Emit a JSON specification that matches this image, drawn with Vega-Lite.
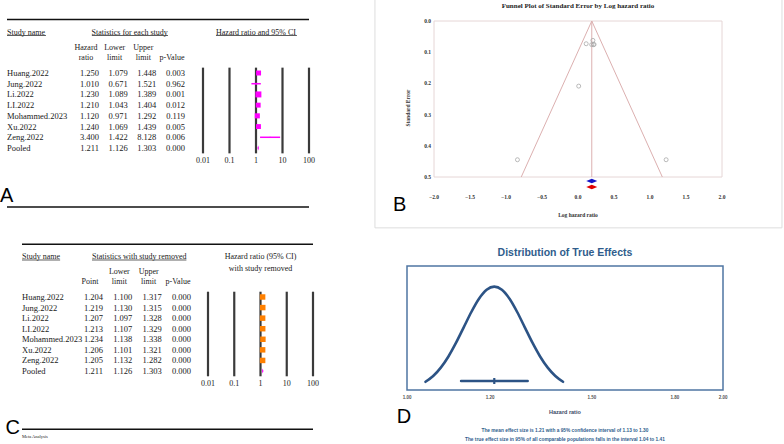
{
"$schema":"https://vega.github.io/schema/vega-lite/v6.json",
"width":784,"height":444,"autosize":{"type":"none"},"padding":0,"background":"white",
"config":{"view":{"stroke":null},"axis":{"disable":true},"legend":{"disable":true}},
"data":{"values":[{}]},
"datasets":{
"studiesA":[
{"study":"Huang.2022","hr":1.25,"lower":1.079,"upper":1.448,"p":0.003,"weight":17.8},
{"study":"Jung.2022","hr":1.01,"lower":0.671,"upper":1.521,"p":0.962,"weight":2.3},
{"study":"Li.2022","hr":1.23,"lower":1.089,"upper":1.389,"p":0.001,"weight":26.0},
{"study":"LI.2022","hr":1.21,"lower":1.043,"upper":1.404,"p":0.012,"weight":17.4},
{"study":"Mohammed.2023","hr":1.12,"lower":0.971,"upper":1.292,"p":0.119,"weight":18.8},
{"study":"Xu.2022","hr":1.24,"lower":1.069,"upper":1.439,"p":0.005,"weight":17.4},
{"study":"Zeng.2022","hr":3.4,"lower":1.422,"upper":8.128,"p":0.006,"weight":0.5},
{"study":"Pooled","hr":1.211,"lower":1.126,"upper":1.303,"p":0.0}
],
"studiesC":[
{"study":"Huang.2022","point":1.204,"lower":1.1,"upper":1.317,"p":0},
{"study":"Jung.2022","point":1.219,"lower":1.13,"upper":1.315,"p":0},
{"study":"Li.2022","point":1.207,"lower":1.097,"upper":1.328,"p":0},
{"study":"LI.2022","point":1.213,"lower":1.107,"upper":1.329,"p":0},
{"study":"Mohammed.2023","point":1.234,"lower":1.138,"upper":1.338,"p":0},
{"study":"Xu.2022","point":1.206,"lower":1.101,"upper":1.321,"p":0},
{"study":"Zeng.2022","point":1.205,"lower":1.132,"upper":1.282,"p":0},
{"study":"Pooled","point":1.211,"lower":1.126,"upper":1.303,"p":0}
],
"colsA":[{"col":"hr","l1":"Hazard","l2":"ratio"},{"col":"lower","l1":"Lower","l2":"limit"},{"col":"upper","l1":"Upper","l2":"limit"},{"col":"p","l2":"p-Value"}],
"colsC":[{"col":"point","l2":"Point"},{"col":"lower","l1":"Lower","l2":"limit"},{"col":"upper","l1":"Upper","l2":"limit"},{"col":"p","l2":"p-Value"}],
"forestTicks":[{"v":0.01},{"v":0.1},{"v":1},{"v":10},{"v":100}],
"funnel":[{"lhr":-0.7886,"se":0.5},{"lhr":0.1914,"se":0},{"lhr":1.1714,"se":0.5}],
"funnelPts":[
{"study":"Huang.2022","lhr":0.2231,"se":0.0751},
{"study":"Jung.2022","lhr":0.00995,"se":0.2087},
{"study":"Li.2022","lhr":0.207,"se":0.0621},
{"study":"LI.2022","lhr":0.1906,"se":0.0758},
{"study":"Mohammed.2023","lhr":0.1133,"se":0.0729},
{"study":"Xu.2022","lhr":0.2151,"se":0.0758},
{"study":"Zeng.2022","lhr":1.2238,"se":0.4447},
{"study":"Imputed","lhr":-0.841,"se":0.4447}
],
"summaryB":[{"method":"Observed","lhr":0.1914},{"method":"Adjusted","lhr":0.1914}],
"ticksBx":[{"v":-2},{"v":-1.5},{"v":-1},{"v":-0.5},{"v":0},{"v":0.5},{"v":1},{"v":1.5},{"v":2}],
"ticksBy":[{"v":0},{"v":0.1},{"v":0.2},{"v":0.3},{"v":0.4},{"v":0.5}],
"curveD":[
{"hr":1.04149,"density":0.0796},{"hr":1.05908,"density":0.1353},{"hr":1.07697,"density":0.2163},{"hr":1.09516,"density":0.3247},
{"hr":1.11366,"density":0.4578},{"hr":1.13247,"density":0.6065},{"hr":1.1516,"density":0.7548},{"hr":1.17105,"density":0.8825},
{"hr":1.19083,"density":0.9692},{"hr":1.21094,"density":1.0},{"hr":1.2314,"density":0.9692},{"hr":1.2522,"density":0.8825},
{"hr":1.27335,"density":0.7548},{"hr":1.29486,"density":0.6065},{"hr":1.31673,"density":0.4578},{"hr":1.33897,"density":0.3247},
{"hr":1.36159,"density":0.2163},{"hr":1.38459,"density":0.1353},{"hr":1.40798,"density":0.0796}
],
"summaryD":[{"mean":1.211,"lower":1.126,"upper":1.303}],
"ticksD":[{"v":1},{"v":1.2},{"v":1.5},{"v":1.8},{"v":2}]
},
"layer":[
{"layer":[
 {"layer":[
  {"mark":{"type":"rule","color":"#111111","strokeWidth":1.5},"encoding":{"x":{"datum":0,"type":"quantitative","scale":{"type":"linear","domain":[0,1],"range":[7,309],"nice":false,"zero":false}},"x2":{"datum":1},"y":{"datum":"top","type":"nominal","scale":{"type":"point","padding":0,"domain":["top","_a9","head","_a7","_a6","_a5","_a4","_a3","colhead","rtop","Huang.2022","_b1","Jung.2022","_b3","Li.2022","_b5","LI.2022","_b7","Mohammed.2023","_b9","Xu.2022","_b11","Zeng.2022","_b13","Pooled","rbot","tick","_c17","_c18","_c19","_c20","_c21","_c22","_c23","letter","bottom"],"range":[19.43,206.93]}}}},
  {"mark":{"type":"rule","color":"#111111","strokeWidth":1.5},"encoding":{"x":{"datum":0,"type":"quantitative","scale":{"type":"linear","domain":[0,1],"range":[7,309],"nice":false,"zero":false}},"x2":{"datum":1},"y":{"datum":"bottom","type":"nominal","scale":{"type":"point","padding":0,"domain":["top","_a9","head","_a7","_a6","_a5","_a4","_a3","colhead","rtop","Huang.2022","_b1","Jung.2022","_b3","Li.2022","_b5","LI.2022","_b7","Mohammed.2023","_b9","Xu.2022","_b11","Zeng.2022","_b13","Pooled","rbot","tick","_c17","_c18","_c19","_c20","_c21","_c22","_c23","letter","bottom"],"range":[19.43,206.93]}}}},
  {"mark":{"type":"rule","color":"#333333","strokeWidth":0.8},"encoding":{"x":{"datum":0,"type":"quantitative","scale":{"type":"linear","domain":[0,1],"range":[7,309],"nice":false,"zero":false}},"x2":{"datum":0.129},"y":{"datum":"_a7","type":"nominal","scale":{"type":"point","padding":0,"domain":["top","_a9","head","_a7","_a6","_a5","_a4","_a3","colhead","rtop","Huang.2022","_b1","Jung.2022","_b3","Li.2022","_b5","LI.2022","_b7","Mohammed.2023","_b9","Xu.2022","_b11","Zeng.2022","_b13","Pooled","rbot","tick","_c17","_c18","_c19","_c20","_c21","_c22","_c23","letter","bottom"],"range":[19.43,206.93]}}}},
  {"mark":{"type":"rule","color":"#333333","strokeWidth":0.8},"encoding":{"x":{"datum":0.281,"type":"quantitative","scale":{"type":"linear","domain":[0,1],"range":[7,309],"nice":false,"zero":false}},"x2":{"datum":0.533},"y":{"datum":"_a7","type":"nominal","scale":{"type":"point","padding":0,"domain":["top","_a9","head","_a7","_a6","_a5","_a4","_a3","colhead","rtop","Huang.2022","_b1","Jung.2022","_b3","Li.2022","_b5","LI.2022","_b7","Mohammed.2023","_b9","Xu.2022","_b11","Zeng.2022","_b13","Pooled","rbot","tick","_c17","_c18","_c19","_c20","_c21","_c22","_c23","letter","bottom"],"range":[19.43,206.93]}}}},
  {"mark":{"type":"rule","color":"#333333","strokeWidth":0.8},"encoding":{"x":{"datum":0.692,"type":"quantitative","scale":{"type":"linear","domain":[0,1],"range":[7,309],"nice":false,"zero":false}},"x2":{"datum":0.96},"y":{"datum":"_a7","type":"nominal","scale":{"type":"point","padding":0,"domain":["top","_a9","head","_a7","_a6","_a5","_a4","_a3","colhead","rtop","Huang.2022","_b1","Jung.2022","_b3","Li.2022","_b5","LI.2022","_b7","Mohammed.2023","_b9","Xu.2022","_b11","Zeng.2022","_b13","Pooled","rbot","tick","_c17","_c18","_c19","_c20","_c21","_c22","_c23","letter","bottom"],"range":[19.43,206.93]}}}},
  {"data":{"name":"studiesA"},"mark":{"type":"text","align":"left","baseline":"middle","font":"Liberation Serif","fontSize":8.5,"color":"#1a1a1a"},"encoding":{"x":{"datum":0,"type":"quantitative","scale":{"type":"linear","domain":[0,1],"range":[7,309],"nice":false,"zero":false}},"y":{"field":"study","type":"nominal","scale":{"type":"point","padding":0,"domain":["top","_a9","head","_a7","_a6","_a5","_a4","_a3","colhead","rtop","Huang.2022","_b1","Jung.2022","_b3","Li.2022","_b5","LI.2022","_b7","Mohammed.2023","_b9","Xu.2022","_b11","Zeng.2022","_b13","Pooled","rbot","tick","_c17","_c18","_c19","_c20","_c21","_c22","_c23","letter","bottom"],"range":[19.43,206.93]}},"text":{"field":"study"}}},
  {"mark":{"type":"text","align":"left","baseline":"alphabetic","dy":-1,"font":"Liberation Serif","fontSize":8,"color":"#1a1a1a"},"encoding":{"x":{"datum":0,"type":"quantitative","scale":{"type":"linear","domain":[0,1],"range":[7,309],"nice":false,"zero":false}},"y":{"datum":"_a7","type":"nominal","scale":{"type":"point","padding":0,"domain":["top","_a9","head","_a7","_a6","_a5","_a4","_a3","colhead","rtop","Huang.2022","_b1","Jung.2022","_b3","Li.2022","_b5","LI.2022","_b7","Mohammed.2023","_b9","Xu.2022","_b11","Zeng.2022","_b13","Pooled","rbot","tick","_c17","_c18","_c19","_c20","_c21","_c22","_c23","letter","bottom"],"range":[19.43,206.93]}},"text":{"value":"Study name"}}},
  {"mark":{"type":"text","align":"left","baseline":"alphabetic","font":"Liberation Sans","fontSize":20,"dx":-7,"color":"#000000"},"encoding":{"x":{"datum":0,"type":"quantitative","scale":{"type":"linear","domain":[0,1],"range":[7,309],"nice":false,"zero":false}},"y":{"datum":"letter","type":"nominal","scale":{"type":"point","padding":0,"domain":["top","_a9","head","_a7","_a6","_a5","_a4","_a3","colhead","rtop","Huang.2022","_b1","Jung.2022","_b3","Li.2022","_b5","LI.2022","_b7","Mohammed.2023","_b9","Xu.2022","_b11","Zeng.2022","_b13","Pooled","rbot","tick","_c17","_c18","_c19","_c20","_c21","_c22","_c23","letter","bottom"],"range":[19.43,206.93]}},"text":{"value":"A"}}}
 ]},
 {"layer":[
  {"data":{"name":"studiesA"},"transform":[{"fold":["hr","lower","upper","p"],"as":["col","val"]}],"mark":{"type":"text","align":"right","baseline":"middle","font":"Liberation Serif","fontSize":8.5,"color":"#1a1a1a"},"encoding":{"x":{"field":"col","type":"nominal","scale":{"type":"point","padding":0,"domain":["hr","lower","upper","p"],"range":[99,185]}},"y":{"field":"study","type":"nominal","scale":{"type":"point","padding":0,"domain":["top","_a9","head","_a7","_a6","_a5","_a4","_a3","colhead","rtop","Huang.2022","_b1","Jung.2022","_b3","Li.2022","_b5","LI.2022","_b7","Mohammed.2023","_b9","Xu.2022","_b11","Zeng.2022","_b13","Pooled","rbot","tick","_c17","_c18","_c19","_c20","_c21","_c22","_c23","letter","bottom"],"range":[19.43,206.93]}},"text":{"field":"val","type":"quantitative","format":".3f"}}},
  {"data":{"name":"colsA"},"transform":[{"filter":"isValid(datum.l1)"}],"mark":{"type":"text","align":"center","baseline":"bottom","dx":-13,"font":"Liberation Serif","fontSize":8,"color":"#1a1a1a"},"encoding":{"x":{"field":"col","type":"nominal","scale":{"type":"point","padding":0,"domain":["hr","lower","upper","p"],"range":[99,185]}},"y":{"datum":"_a4","type":"nominal","scale":{"type":"point","padding":0,"domain":["top","_a9","head","_a7","_a6","_a5","_a4","_a3","colhead","rtop","Huang.2022","_b1","Jung.2022","_b3","Li.2022","_b5","LI.2022","_b7","Mohammed.2023","_b9","Xu.2022","_b11","Zeng.2022","_b13","Pooled","rbot","tick","_c17","_c18","_c19","_c20","_c21","_c22","_c23","letter","bottom"],"range":[19.43,206.93]}},"text":{"field":"l1"}}},
  {"data":{"name":"colsA"},"mark":{"type":"text","align":"center","baseline":"bottom","dx":-13,"font":"Liberation Serif","fontSize":8,"color":"#1a1a1a"},"encoding":{"x":{"field":"col","type":"nominal","scale":{"type":"point","padding":0,"domain":["hr","lower","upper","p"],"range":[99,185]}},"y":{"datum":"colhead","type":"nominal","scale":{"type":"point","padding":0,"domain":["top","_a9","head","_a7","_a6","_a5","_a4","_a3","colhead","rtop","Huang.2022","_b1","Jung.2022","_b3","Li.2022","_b5","LI.2022","_b7","Mohammed.2023","_b9","Xu.2022","_b11","Zeng.2022","_b13","Pooled","rbot","tick","_c17","_c18","_c19","_c20","_c21","_c22","_c23","letter","bottom"],"range":[19.43,206.93]}},"text":{"field":"l2"}}},
  {"mark":{"type":"text","align":"center","baseline":"alphabetic","dy":-1,"dx":2,"font":"Liberation Serif","fontSize":8,"color":"#1a1a1a"},"encoding":{"x":{"datum":"lower","type":"nominal","scale":{"type":"point","padding":0,"domain":["hr","lower","upper","p"],"range":[99,185]}},"y":{"datum":"_a7","type":"nominal","scale":{"type":"point","padding":0,"domain":["top","_a9","head","_a7","_a6","_a5","_a4","_a3","colhead","rtop","Huang.2022","_b1","Jung.2022","_b3","Li.2022","_b5","LI.2022","_b7","Mohammed.2023","_b9","Xu.2022","_b11","Zeng.2022","_b13","Pooled","rbot","tick","_c17","_c18","_c19","_c20","_c21","_c22","_c23","letter","bottom"],"range":[19.43,206.93]}},"text":{"value":"Statistics for each study"}}}
 ]},
 {"layer":[
  {"data":{"name":"forestTicks"},"mark":{"type":"rule","color":"#3a3a3a","strokeWidth":2.2},"encoding":{"x":{"field":"v","type":"quantitative","scale":{"type":"log","domain":[0.01,100],"range":[203,309],"nice":false}},"y":{"datum":"rtop","type":"nominal","scale":{"type":"point","padding":0,"domain":["top","_a9","head","_a7","_a6","_a5","_a4","_a3","colhead","rtop","Huang.2022","_b1","Jung.2022","_b3","Li.2022","_b5","LI.2022","_b7","Mohammed.2023","_b9","Xu.2022","_b11","Zeng.2022","_b13","Pooled","rbot","tick","_c17","_c18","_c19","_c20","_c21","_c22","_c23","letter","bottom"],"range":[19.43,206.93]}},"y2":{"datum":"rbot"}}},
  {"data":{"name":"forestTicks"},"mark":{"type":"text","align":"center","baseline":"middle","dy":2,"font":"Liberation Serif","fontSize":8,"color":"#1a1a1a"},"encoding":{"x":{"field":"v","type":"quantitative","scale":{"type":"log","domain":[0.01,100],"range":[203,309],"nice":false}},"y":{"datum":"tick","type":"nominal","scale":{"type":"point","padding":0,"domain":["top","_a9","head","_a7","_a6","_a5","_a4","_a3","colhead","rtop","Huang.2022","_b1","Jung.2022","_b3","Li.2022","_b5","LI.2022","_b7","Mohammed.2023","_b9","Xu.2022","_b11","Zeng.2022","_b13","Pooled","rbot","tick","_c17","_c18","_c19","_c20","_c21","_c22","_c23","letter","bottom"],"range":[19.43,206.93]}},"text":{"field":"v","type":"quantitative","format":"~g"}}},
  {"data":{"name":"studiesA"},"transform":[{"filter":"datum.study !== 'Pooled'"}],"mark":{"type":"rule","color":"#FF00FF","strokeWidth":1.5},"encoding":{"x":{"field":"lower","type":"quantitative","scale":{"type":"log","domain":[0.01,100],"range":[203,309],"nice":false}},"x2":{"field":"upper"},"y":{"field":"study","type":"nominal","scale":{"type":"point","padding":0,"domain":["top","_a9","head","_a7","_a6","_a5","_a4","_a3","colhead","rtop","Huang.2022","_b1","Jung.2022","_b3","Li.2022","_b5","LI.2022","_b7","Mohammed.2023","_b9","Xu.2022","_b11","Zeng.2022","_b13","Pooled","rbot","tick","_c17","_c18","_c19","_c20","_c21","_c22","_c23","letter","bottom"],"range":[19.43,206.93]}}}},
  {"data":{"name":"studiesA"},"transform":[{"filter":"datum.study !== 'Pooled'"}],"mark":{"type":"point","shape":"square","filled":true,"color":"#FF00FF","opacity":1},"encoding":{"x":{"field":"hr","type":"quantitative","scale":{"type":"log","domain":[0.01,100],"range":[203,309],"nice":false}},"y":{"field":"study","type":"nominal","scale":{"type":"point","padding":0,"domain":["top","_a9","head","_a7","_a6","_a5","_a4","_a3","colhead","rtop","Huang.2022","_b1","Jung.2022","_b3","Li.2022","_b5","LI.2022","_b7","Mohammed.2023","_b9","Xu.2022","_b11","Zeng.2022","_b13","Pooled","rbot","tick","_c17","_c18","_c19","_c20","_c21","_c22","_c23","letter","bottom"],"range":[19.43,206.93]}},"size":{"field":"weight","type":"quantitative","scale":{"type":"linear","domain":[0,26],"range":[0,36],"zero":true}}}},
  {"data":{"name":"studiesA"},"transform":[{"filter":"datum.study === 'Pooled'"}],"mark":{"type":"point","shape":"M0,-1L0.3,0L0,1L-0.3,0Z","filled":true,"color":"#FF00FF","size":25,"opacity":1},"encoding":{"x":{"field":"hr","type":"quantitative","scale":{"type":"log","domain":[0.01,100],"range":[203,309],"nice":false}},"y":{"field":"study","type":"nominal","scale":{"type":"point","padding":0,"domain":["top","_a9","head","_a7","_a6","_a5","_a4","_a3","colhead","rtop","Huang.2022","_b1","Jung.2022","_b3","Li.2022","_b5","LI.2022","_b7","Mohammed.2023","_b9","Xu.2022","_b11","Zeng.2022","_b13","Pooled","rbot","tick","_c17","_c18","_c19","_c20","_c21","_c22","_c23","letter","bottom"],"range":[19.43,206.93]}}}},
  {"mark":{"type":"text","align":"center","baseline":"alphabetic","dy":-1,"font":"Liberation Serif","fontSize":8,"color":"#1a1a1a"},"encoding":{"x":{"datum":1,"type":"quantitative","scale":{"type":"log","domain":[0.01,100],"range":[203,309],"nice":false}},"y":{"datum":"_a7","type":"nominal","scale":{"type":"point","padding":0,"domain":["top","_a9","head","_a7","_a6","_a5","_a4","_a3","colhead","rtop","Huang.2022","_b1","Jung.2022","_b3","Li.2022","_b5","LI.2022","_b7","Mohammed.2023","_b9","Xu.2022","_b11","Zeng.2022","_b13","Pooled","rbot","tick","_c17","_c18","_c19","_c20","_c21","_c22","_c23","letter","bottom"],"range":[19.43,206.93]}},"text":{"value":"Hazard ratio and 95% CI"}}}
 ]}
],"resolve":{"scale":{"x":"independent"}}},
{"layer":[
 {"layer":[
  {"mark":{"type":"rule","color":"#111111","strokeWidth":1.5},"encoding":{"x":{"datum":0,"type":"quantitative","scale":{"type":"linear","domain":[0,1],"range":[22,313],"nice":false,"zero":false}},"x2":{"datum":1},"y":{"datum":"top","type":"nominal","scale":{"type":"point","padding":0,"domain":["top","_a9","head","_a7","_a6","_a5","_a4","_a3","colhead","rtop","Huang.2022","_b1","Jung.2022","_b3","Li.2022","_b5","LI.2022","_b7","Mohammed.2023","_b9","Xu.2022","_b11","Zeng.2022","_b13","Pooled","rbot","tick","_c17","_c18","_c19","_c20","_c21","_c22","_c23","_c24","bottom","letter"],"range":[244.14,434.43]}}}},
  {"mark":{"type":"rule","color":"#111111","strokeWidth":1.5},"encoding":{"x":{"datum":0,"type":"quantitative","scale":{"type":"linear","domain":[0,1],"range":[22,313],"nice":false,"zero":false}},"x2":{"datum":1},"y":{"datum":"bottom","type":"nominal","scale":{"type":"point","padding":0,"domain":["top","_a9","head","_a7","_a6","_a5","_a4","_a3","colhead","rtop","Huang.2022","_b1","Jung.2022","_b3","Li.2022","_b5","LI.2022","_b7","Mohammed.2023","_b9","Xu.2022","_b11","Zeng.2022","_b13","Pooled","rbot","tick","_c17","_c18","_c19","_c20","_c21","_c22","_c23","_c24","bottom","letter"],"range":[244.14,434.43]}}}},
  {"mark":{"type":"rule","color":"#333333","strokeWidth":0.8},"encoding":{"x":{"datum":0,"type":"quantitative","scale":{"type":"linear","domain":[0,1],"range":[22,313],"nice":false,"zero":false}},"x2":{"datum":0.131},"y":{"datum":"_a7","type":"nominal","scale":{"type":"point","padding":0,"domain":["top","_a9","head","_a7","_a6","_a5","_a4","_a3","colhead","rtop","Huang.2022","_b1","Jung.2022","_b3","Li.2022","_b5","LI.2022","_b7","Mohammed.2023","_b9","Xu.2022","_b11","Zeng.2022","_b13","Pooled","rbot","tick","_c17","_c18","_c19","_c20","_c21","_c22","_c23","_c24","bottom","letter"],"range":[244.14,434.43]}}}},
  {"mark":{"type":"rule","color":"#333333","strokeWidth":0.8},"encoding":{"x":{"datum":0.2405,"type":"quantitative","scale":{"type":"linear","domain":[0,1],"range":[22,313],"nice":false,"zero":false}},"x2":{"datum":0.565},"y":{"datum":"_a7","type":"nominal","scale":{"type":"point","padding":0,"domain":["top","_a9","head","_a7","_a6","_a5","_a4","_a3","colhead","rtop","Huang.2022","_b1","Jung.2022","_b3","Li.2022","_b5","LI.2022","_b7","Mohammed.2023","_b9","Xu.2022","_b11","Zeng.2022","_b13","Pooled","rbot","tick","_c17","_c18","_c19","_c20","_c21","_c22","_c23","_c24","bottom","letter"],"range":[244.14,434.43]}}}},
  {"data":{"name":"studiesC"},"mark":{"type":"text","align":"left","baseline":"middle","font":"Liberation Serif","fontSize":8.5,"color":"#1a1a1a"},"encoding":{"x":{"datum":0,"type":"quantitative","scale":{"type":"linear","domain":[0,1],"range":[22,313],"nice":false,"zero":false}},"y":{"field":"study","type":"nominal","scale":{"type":"point","padding":0,"domain":["top","_a9","head","_a7","_a6","_a5","_a4","_a3","colhead","rtop","Huang.2022","_b1","Jung.2022","_b3","Li.2022","_b5","LI.2022","_b7","Mohammed.2023","_b9","Xu.2022","_b11","Zeng.2022","_b13","Pooled","rbot","tick","_c17","_c18","_c19","_c20","_c21","_c22","_c23","_c24","bottom","letter"],"range":[244.14,434.43]}},"text":{"field":"study"}}},
  {"mark":{"type":"text","align":"left","baseline":"alphabetic","dy":-1,"font":"Liberation Serif","fontSize":8,"color":"#1a1a1a"},"encoding":{"x":{"datum":0,"type":"quantitative","scale":{"type":"linear","domain":[0,1],"range":[22,313],"nice":false,"zero":false}},"y":{"datum":"_a7","type":"nominal","scale":{"type":"point","padding":0,"domain":["top","_a9","head","_a7","_a6","_a5","_a4","_a3","colhead","rtop","Huang.2022","_b1","Jung.2022","_b3","Li.2022","_b5","LI.2022","_b7","Mohammed.2023","_b9","Xu.2022","_b11","Zeng.2022","_b13","Pooled","rbot","tick","_c17","_c18","_c19","_c20","_c21","_c22","_c23","_c24","bottom","letter"],"range":[244.14,434.43]}},"text":{"value":"Study name"}}},
  {"mark":{"type":"text","align":"right","baseline":"alphabetic","font":"Liberation Sans","fontSize":20,"dx":-2,"color":"#000000"},"encoding":{"x":{"datum":0,"type":"quantitative","scale":{"type":"linear","domain":[0,1],"range":[22,313],"nice":false,"zero":false}},"y":{"datum":"letter","type":"nominal","scale":{"type":"point","padding":0,"domain":["top","_a9","head","_a7","_a6","_a5","_a4","_a3","colhead","rtop","Huang.2022","_b1","Jung.2022","_b3","Li.2022","_b5","LI.2022","_b7","Mohammed.2023","_b9","Xu.2022","_b11","Zeng.2022","_b13","Pooled","rbot","tick","_c17","_c18","_c19","_c20","_c21","_c22","_c23","_c24","bottom","letter"],"range":[244.14,434.43]}},"text":{"value":"C"}}},
  {"mark":{"type":"text","align":"left","baseline":"top","font":"Liberation Serif","fontSize":4.5,"color":"#1a1a1a"},"encoding":{"x":{"datum":0,"type":"quantitative","scale":{"type":"linear","domain":[0,1],"range":[22,313],"nice":false,"zero":false}},"y":{"datum":"letter","type":"nominal","scale":{"type":"point","padding":0,"domain":["top","_a9","head","_a7","_a6","_a5","_a4","_a3","colhead","rtop","Huang.2022","_b1","Jung.2022","_b3","Li.2022","_b5","LI.2022","_b7","Mohammed.2023","_b9","Xu.2022","_b11","Zeng.2022","_b13","Pooled","rbot","tick","_c17","_c18","_c19","_c20","_c21","_c22","_c23","_c24","bottom","letter"],"range":[244.14,434.43]}},"text":{"value":"Meta Analysis"}}}
 ]},
 {"layer":[
  {"data":{"name":"studiesC"},"transform":[{"fold":["point","lower","upper","p"],"as":["col","val"]}],"mark":{"type":"text","align":"right","baseline":"middle","font":"Liberation Serif","fontSize":8.5,"color":"#1a1a1a"},"encoding":{"x":{"field":"col","type":"nominal","scale":{"type":"point","padding":0,"domain":["point","lower","upper","p"],"range":[103,191]}},"y":{"field":"study","type":"nominal","scale":{"type":"point","padding":0,"domain":["top","_a9","head","_a7","_a6","_a5","_a4","_a3","colhead","rtop","Huang.2022","_b1","Jung.2022","_b3","Li.2022","_b5","LI.2022","_b7","Mohammed.2023","_b9","Xu.2022","_b11","Zeng.2022","_b13","Pooled","rbot","tick","_c17","_c18","_c19","_c20","_c21","_c22","_c23","_c24","bottom","letter"],"range":[244.14,434.43]}},"text":{"field":"val","type":"quantitative","format":".3f"}}},
  {"data":{"name":"colsC"},"transform":[{"filter":"isValid(datum.l1)"}],"mark":{"type":"text","align":"center","baseline":"bottom","dx":-13,"font":"Liberation Serif","fontSize":8,"color":"#1a1a1a"},"encoding":{"x":{"field":"col","type":"nominal","scale":{"type":"point","padding":0,"domain":["point","lower","upper","p"],"range":[103,191]}},"y":{"datum":"_a4","type":"nominal","scale":{"type":"point","padding":0,"domain":["top","_a9","head","_a7","_a6","_a5","_a4","_a3","colhead","rtop","Huang.2022","_b1","Jung.2022","_b3","Li.2022","_b5","LI.2022","_b7","Mohammed.2023","_b9","Xu.2022","_b11","Zeng.2022","_b13","Pooled","rbot","tick","_c17","_c18","_c19","_c20","_c21","_c22","_c23","_c24","bottom","letter"],"range":[244.14,434.43]}},"text":{"field":"l1"}}},
  {"data":{"name":"colsC"},"mark":{"type":"text","align":"center","baseline":"bottom","dx":-13,"font":"Liberation Serif","fontSize":8,"color":"#1a1a1a"},"encoding":{"x":{"field":"col","type":"nominal","scale":{"type":"point","padding":0,"domain":["point","lower","upper","p"],"range":[103,191]}},"y":{"datum":"colhead","type":"nominal","scale":{"type":"point","padding":0,"domain":["top","_a9","head","_a7","_a6","_a5","_a4","_a3","colhead","rtop","Huang.2022","_b1","Jung.2022","_b3","Li.2022","_b5","LI.2022","_b7","Mohammed.2023","_b9","Xu.2022","_b11","Zeng.2022","_b13","Pooled","rbot","tick","_c17","_c18","_c19","_c20","_c21","_c22","_c23","_c24","bottom","letter"],"range":[244.14,434.43]}},"text":{"field":"l2"}}},
  {"mark":{"type":"text","align":"center","baseline":"alphabetic","dy":-1,"dx":7,"font":"Liberation Serif","fontSize":8,"color":"#1a1a1a"},"encoding":{"x":{"datum":"lower","type":"nominal","scale":{"type":"point","padding":0,"domain":["point","lower","upper","p"],"range":[103,191]}},"y":{"datum":"_a7","type":"nominal","scale":{"type":"point","padding":0,"domain":["top","_a9","head","_a7","_a6","_a5","_a4","_a3","colhead","rtop","Huang.2022","_b1","Jung.2022","_b3","Li.2022","_b5","LI.2022","_b7","Mohammed.2023","_b9","Xu.2022","_b11","Zeng.2022","_b13","Pooled","rbot","tick","_c17","_c18","_c19","_c20","_c21","_c22","_c23","_c24","bottom","letter"],"range":[244.14,434.43]}},"text":{"value":"Statistics with study removed"}}}
 ]},
 {"layer":[
  {"data":{"name":"forestTicks"},"mark":{"type":"rule","color":"#3a3a3a","strokeWidth":2.2},"encoding":{"x":{"field":"v","type":"quantitative","scale":{"type":"log","domain":[0.01,100],"range":[208,313],"nice":false}},"y":{"datum":"rtop","type":"nominal","scale":{"type":"point","padding":0,"domain":["top","_a9","head","_a7","_a6","_a5","_a4","_a3","colhead","rtop","Huang.2022","_b1","Jung.2022","_b3","Li.2022","_b5","LI.2022","_b7","Mohammed.2023","_b9","Xu.2022","_b11","Zeng.2022","_b13","Pooled","rbot","tick","_c17","_c18","_c19","_c20","_c21","_c22","_c23","_c24","bottom","letter"],"range":[244.14,434.43]}},"y2":{"datum":"rbot"}}},
  {"data":{"name":"forestTicks"},"mark":{"type":"text","align":"center","baseline":"middle","dy":2,"font":"Liberation Serif","fontSize":8,"color":"#1a1a1a"},"encoding":{"x":{"field":"v","type":"quantitative","scale":{"type":"log","domain":[0.01,100],"range":[208,313],"nice":false}},"y":{"datum":"tick","type":"nominal","scale":{"type":"point","padding":0,"domain":["top","_a9","head","_a7","_a6","_a5","_a4","_a3","colhead","rtop","Huang.2022","_b1","Jung.2022","_b3","Li.2022","_b5","LI.2022","_b7","Mohammed.2023","_b9","Xu.2022","_b11","Zeng.2022","_b13","Pooled","rbot","tick","_c17","_c18","_c19","_c20","_c21","_c22","_c23","_c24","bottom","letter"],"range":[244.14,434.43]}},"text":{"field":"v","type":"quantitative","format":"~g"}}},
  {"data":{"name":"studiesC"},"transform":[{"filter":"datum.study !== 'Pooled'"}],"mark":{"type":"rule","color":"#FF8000","strokeWidth":1.5},"encoding":{"x":{"field":"lower","type":"quantitative","scale":{"type":"log","domain":[0.01,100],"range":[208,313],"nice":false}},"x2":{"field":"upper"},"y":{"field":"study","type":"nominal","scale":{"type":"point","padding":0,"domain":["top","_a9","head","_a7","_a6","_a5","_a4","_a3","colhead","rtop","Huang.2022","_b1","Jung.2022","_b3","Li.2022","_b5","LI.2022","_b7","Mohammed.2023","_b9","Xu.2022","_b11","Zeng.2022","_b13","Pooled","rbot","tick","_c17","_c18","_c19","_c20","_c21","_c22","_c23","_c24","bottom","letter"],"range":[244.14,434.43]}}}},
  {"data":{"name":"studiesC"},"transform":[{"filter":"datum.study !== 'Pooled'"}],"mark":{"type":"point","shape":"square","filled":true,"color":"#FF8000","size":30,"opacity":1},"encoding":{"x":{"field":"point","type":"quantitative","scale":{"type":"log","domain":[0.01,100],"range":[208,313],"nice":false}},"y":{"field":"study","type":"nominal","scale":{"type":"point","padding":0,"domain":["top","_a9","head","_a7","_a6","_a5","_a4","_a3","colhead","rtop","Huang.2022","_b1","Jung.2022","_b3","Li.2022","_b5","LI.2022","_b7","Mohammed.2023","_b9","Xu.2022","_b11","Zeng.2022","_b13","Pooled","rbot","tick","_c17","_c18","_c19","_c20","_c21","_c22","_c23","_c24","bottom","letter"],"range":[244.14,434.43]}}}},
  {"data":{"name":"studiesC"},"transform":[{"filter":"datum.study === 'Pooled'"}],"mark":{"type":"point","shape":"M0,-1L0.3,0L0,1L-0.3,0Z","filled":true,"color":"#FF00FF","size":25,"opacity":1},"encoding":{"x":{"field":"point","type":"quantitative","scale":{"type":"log","domain":[0.01,100],"range":[208,313],"nice":false}},"y":{"field":"study","type":"nominal","scale":{"type":"point","padding":0,"domain":["top","_a9","head","_a7","_a6","_a5","_a4","_a3","colhead","rtop","Huang.2022","_b1","Jung.2022","_b3","Li.2022","_b5","LI.2022","_b7","Mohammed.2023","_b9","Xu.2022","_b11","Zeng.2022","_b13","Pooled","rbot","tick","_c17","_c18","_c19","_c20","_c21","_c22","_c23","_c24","bottom","letter"],"range":[244.14,434.43]}}}},
  {"mark":{"type":"text","align":"center","baseline":"alphabetic","dy":-1,"lineBreak":"\n","lineHeight":12,"font":"Liberation Serif","fontSize":8,"color":"#1a1a1a"},"encoding":{"x":{"datum":1,"type":"quantitative","scale":{"type":"log","domain":[0.01,100],"range":[208,313],"nice":false}},"y":{"datum":"_a7","type":"nominal","scale":{"type":"point","padding":0,"domain":["top","_a9","head","_a7","_a6","_a5","_a4","_a3","colhead","rtop","Huang.2022","_b1","Jung.2022","_b3","Li.2022","_b5","LI.2022","_b7","Mohammed.2023","_b9","Xu.2022","_b11","Zeng.2022","_b13","Pooled","rbot","tick","_c17","_c18","_c19","_c20","_c21","_c22","_c23","_c24","bottom","letter"],"range":[244.14,434.43]}},"text":{"value":"Hazard ratio (95% CI)\nwith study removed"}}}
 ]}
],"resolve":{"scale":{"x":"independent"}}},
{"layer":[
 {"mark":{"type":"rect","fillOpacity":0,"stroke":"#DDDDDD","strokeWidth":1},"encoding":{"x":{"datum":-2.82,"type":"quantitative","scale":{"type":"linear","domain":[-2,2],"range":[434,722],"nice":false,"zero":false}},"x2":{"datum":2.833},"y":{"datum":-0.08,"type":"quantitative","scale":{"type":"linear","domain":[0,0.5],"range":[21,177],"nice":false,"zero":false}},"y2":{"datum":0.663}}},
 {"mark":{"type":"rect","fillOpacity":0,"stroke":"#E6D6D6","strokeWidth":1},"encoding":{"x":{"datum":-2,"type":"quantitative","scale":{"type":"linear","domain":[-2,2],"range":[434,722],"nice":false,"zero":false}},"x2":{"datum":2},"y":{"datum":0,"type":"quantitative","scale":{"type":"linear","domain":[0,0.5],"range":[21,177],"nice":false,"zero":false}},"y2":{"datum":0.5}}},
 {"data":{"name":"funnel"},"mark":{"type":"line","color":"#DCB0B0","strokeWidth":1},"encoding":{"x":{"field":"lhr","type":"quantitative","scale":{"type":"linear","domain":[-2,2],"range":[434,722],"nice":false,"zero":false}},"y":{"field":"se","type":"quantitative","scale":{"type":"linear","domain":[0,0.5],"range":[21,177],"nice":false,"zero":false}}}},
 {"mark":{"type":"rule","color":"#DCB0B0","strokeWidth":1},"encoding":{"x":{"datum":0.1914,"type":"quantitative","scale":{"type":"linear","domain":[-2,2],"range":[434,722],"nice":false,"zero":false}},"y":{"datum":0,"type":"quantitative","scale":{"type":"linear","domain":[0,0.5],"range":[21,177],"nice":false,"zero":false}},"y2":{"datum":0.5}}},
 {"data":{"name":"funnelPts"},"mark":{"type":"point","shape":"circle","filled":false,"color":"#A8A8A8","size":16,"strokeWidth":0.8,"opacity":1},"encoding":{"x":{"field":"lhr","type":"quantitative","scale":{"type":"linear","domain":[-2,2],"range":[434,722],"nice":false,"zero":false}},"y":{"field":"se","type":"quantitative","scale":{"type":"linear","domain":[0,0.5],"range":[21,177],"nice":false,"zero":false}}}},
 {"data":{"name":"summaryB"},"transform":[{"filter":"datum.method === 'Observed'"}],"mark":{"type":"point","shape":"M-1,0L0,-0.4L1,0L0,0.4Z","filled":true,"color":"#1414C8","size":121,"opacity":1},"encoding":{"x":{"field":"lhr","type":"quantitative","scale":{"type":"linear","domain":[-2,2],"range":[434,722],"nice":false,"zero":false}},"y":{"datum":0.513,"type":"quantitative","scale":{"type":"linear","domain":[0,0.5],"range":[21,177],"nice":false,"zero":false}}}},
 {"data":{"name":"summaryB"},"transform":[{"filter":"datum.method === 'Adjusted'"}],"mark":{"type":"point","shape":"M-1,0L0,-0.4L1,0L0,0.4Z","filled":true,"color":"#E00000","size":121,"opacity":1},"encoding":{"x":{"field":"lhr","type":"quantitative","scale":{"type":"linear","domain":[-2,2],"range":[434,722],"nice":false,"zero":false}},"y":{"datum":0.532,"type":"quantitative","scale":{"type":"linear","domain":[0,0.5],"range":[21,177],"nice":false,"zero":false}}}},
 {"data":{"name":"ticksBx"},"mark":{"type":"text","align":"center","baseline":"middle","font":"Liberation Serif","fontWeight":"bold","fontSize":5.5,"color":"#333333"},"encoding":{"x":{"field":"v","type":"quantitative","scale":{"type":"linear","domain":[-2,2],"range":[434,722],"nice":false,"zero":false}},"y":{"datum":0.564,"type":"quantitative","scale":{"type":"linear","domain":[0,0.5],"range":[21,177],"nice":false,"zero":false}},"text":{"field":"v","type":"quantitative","format":".1f"}}},
 {"data":{"name":"ticksBy"},"mark":{"type":"text","align":"right","baseline":"middle","dx":-3,"font":"Liberation Serif","fontWeight":"bold","fontSize":5.5,"color":"#333333"},"encoding":{"x":{"datum":-2,"type":"quantitative","scale":{"type":"linear","domain":[-2,2],"range":[434,722],"nice":false,"zero":false}},"y":{"field":"v","type":"quantitative","scale":{"type":"linear","domain":[0,0.5],"range":[21,177],"nice":false,"zero":false}},"text":{"field":"v","type":"quantitative","format":".1f"}}},
 {"mark":{"type":"text","align":"center","baseline":"middle","font":"Liberation Serif","fontWeight":"bold","fontSize":7,"color":"#222222"},"encoding":{"x":{"datum":0,"type":"quantitative","scale":{"type":"linear","domain":[-2,2],"range":[434,722],"nice":false,"zero":false}},"y":{"datum":-0.048,"type":"quantitative","scale":{"type":"linear","domain":[0,0.5],"range":[21,177],"nice":false,"zero":false}},"text":{"value":"Funnel Plot of Standard Error by Log hazard ratio"}}},
 {"mark":{"type":"text","align":"center","baseline":"middle","font":"Liberation Serif","fontWeight":"bold","fontSize":5.5,"color":"#333333"},"encoding":{"x":{"datum":0,"type":"quantitative","scale":{"type":"linear","domain":[-2,2],"range":[434,722],"nice":false,"zero":false}},"y":{"datum":0.622,"type":"quantitative","scale":{"type":"linear","domain":[0,0.5],"range":[21,177],"nice":false,"zero":false}},"text":{"value":"Log hazard ratio"}}},
 {"mark":{"type":"text","align":"center","baseline":"middle","angle":270,"font":"Liberation Serif","fontWeight":"bold","fontSize":5.5,"color":"#333333"},"encoding":{"x":{"datum":-2.361,"type":"quantitative","scale":{"type":"linear","domain":[-2,2],"range":[434,722],"nice":false,"zero":false}},"y":{"datum":0.279,"type":"quantitative","scale":{"type":"linear","domain":[0,0.5],"range":[21,177],"nice":false,"zero":false}},"text":{"value":"Standard Error"}}},
 {"mark":{"type":"text","align":"left","baseline":"alphabetic","font":"Liberation Sans","fontSize":20,"color":"#000000"},"encoding":{"x":{"datum":-2.569,"type":"quantitative","scale":{"type":"linear","domain":[-2,2],"range":[434,722],"nice":false,"zero":false}},"y":{"datum":0.609,"type":"quantitative","scale":{"type":"linear","domain":[0,0.5],"range":[21,177],"nice":false,"zero":false}},"text":{"value":"B"}}}
]},
{"layer":[
 {"mark":{"type":"rect","fillOpacity":0,"stroke":"#4F75A3","strokeWidth":1.5},"encoding":{"x":{"datum":1,"type":"quantitative","scale":{"type":"log","domain":[1,2],"range":[407,723],"nice":false}},"x2":{"datum":2},"y":{"datum":0,"type":"quantitative","scale":{"type":"linear","domain":[0,1.2],"range":[390,266],"nice":false,"zero":false}},"y2":{"datum":1.2}}},
 {"data":{"name":"curveD"},"mark":{"type":"line","color":"#2C5385","strokeWidth":2.6,"interpolate":"monotone","strokeCap":"round"},"encoding":{"x":{"field":"hr","type":"quantitative","scale":{"type":"log","domain":[1,2],"range":[407,723],"nice":false}},"y":{"field":"density","type":"quantitative","scale":{"type":"linear","domain":[0,1.2],"range":[390,266],"nice":false,"zero":false}}}},
 {"data":{"name":"summaryD"},"mark":{"type":"rule","color":"#2C5385","strokeWidth":2.6,"strokeCap":"round"},"encoding":{"x":{"field":"lower","type":"quantitative","scale":{"type":"log","domain":[1,2],"range":[407,723],"nice":false}},"x2":{"field":"upper"},"y":{"datum":0.087,"type":"quantitative","scale":{"type":"linear","domain":[0,1.2],"range":[390,266],"nice":false,"zero":false}}}},
 {"data":{"name":"summaryD"},"mark":{"type":"rule","color":"#2C5385","strokeWidth":2.2},"encoding":{"x":{"field":"mean","type":"quantitative","scale":{"type":"log","domain":[1,2],"range":[407,723],"nice":false}},"y":{"datum":0.058,"type":"quantitative","scale":{"type":"linear","domain":[0,1.2],"range":[390,266],"nice":false,"zero":false}},"y2":{"datum":0.116}}},
 {"data":{"name":"ticksD"},"mark":{"type":"text","align":"center","baseline":"middle","font":"Liberation Sans","fontWeight":"bold","fontSize":4.5,"color":"#555555"},"encoding":{"x":{"field":"v","type":"quantitative","scale":{"type":"log","domain":[1,2],"range":[407,723],"nice":false}},"y":{"datum":-0.077,"type":"quantitative","scale":{"type":"linear","domain":[0,1.2],"range":[390,266],"nice":false,"zero":false}},"text":{"field":"v","type":"quantitative","format":".2f"}}},
 {"mark":{"type":"text","align":"center","baseline":"middle","font":"Liberation Sans","fontWeight":"bold","fontSize":5.5,"color":"#3A4A66"},"encoding":{"x":{"datum":1.414,"type":"quantitative","scale":{"type":"log","domain":[1,2],"range":[407,723],"nice":false}},"y":{"datum":-0.213,"type":"quantitative","scale":{"type":"linear","domain":[0,1.2],"range":[390,266],"nice":false,"zero":false}},"text":{"value":"Hazard ratio"}}},
 {"mark":{"type":"text","align":"center","baseline":"middle","font":"Liberation Sans","fontWeight":"bold","fontSize":10.5,"color":"#2F5D8C"},"encoding":{"x":{"datum":1.414,"type":"quantitative","scale":{"type":"log","domain":[1,2],"range":[407,723],"nice":false}},"y":{"datum":1.326,"type":"quantitative","scale":{"type":"linear","domain":[0,1.2],"range":[390,266],"nice":false,"zero":false}},"text":{"value":"Distribution of True Effects"}}},
 {"mark":{"type":"text","align":"center","baseline":"middle","font":"Liberation Sans","fontWeight":"bold","fontSize":4.8,"color":"#2F5D8C"},"encoding":{"x":{"datum":1.414,"type":"quantitative","scale":{"type":"log","domain":[1,2],"range":[407,723],"nice":false}},"y":{"datum":-0.397,"type":"quantitative","scale":{"type":"linear","domain":[0,1.2],"range":[390,266],"nice":false,"zero":false}},"text":{"value":"The mean effect size is 1.21 with a 95% confidence interval of 1.13 to 1.30"}}},
 {"mark":{"type":"text","align":"center","baseline":"middle","font":"Liberation Sans","fontWeight":"bold","fontSize":4.8,"color":"#2F5D8C"},"encoding":{"x":{"datum":1.414,"type":"quantitative","scale":{"type":"log","domain":[1,2],"range":[407,723],"nice":false}},"y":{"datum":-0.484,"type":"quantitative","scale":{"type":"linear","domain":[0,1.2],"range":[390,266],"nice":false,"zero":false}},"text":{"value":"The true effect size in 95% of all comparable populations falls in the interval 1.04 to 1.41"}}},
 {"mark":{"type":"text","align":"left","baseline":"alphabetic","font":"Liberation Sans","fontSize":20,"color":"#000000"},"encoding":{"x":{"datum":0.978,"type":"quantitative","scale":{"type":"log","domain":[1,2],"range":[407,723],"nice":false}},"y":{"datum":-0.319,"type":"quantitative","scale":{"type":"linear","domain":[0,1.2],"range":[390,266],"nice":false,"zero":false}},"text":{"value":"D"}}}
]}
],
"resolve":{"scale":{"x":"independent","y":"independent","size":"independent"}}
}
